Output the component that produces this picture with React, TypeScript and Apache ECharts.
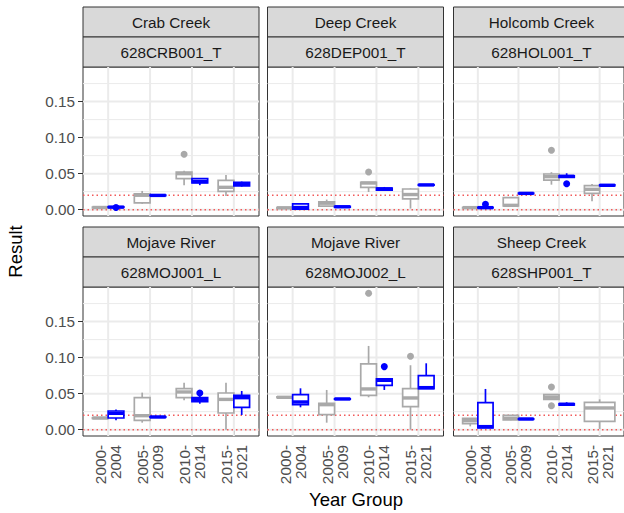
import React, { useEffect, useRef } from "react";
import * as echarts from "echarts";

// ---------- data ----------
const yearGroups = ["2000-\n2004", "2005-\n2009", "2010-\n2014", "2015-\n2021"];
const siteNames = ["Crab Creek", "Deep Creek", "Holcomb Creek", "Mojave River", "Mojave River", "Sheep Creek"];
const stationCodes = ["628CRB001_T", "628DEP001_T", "628HOL001_T", "628MOJ001_L", "628MOJ002_L", "628SHP001_T"];
const yTicks = [0, 0.05, 0.1, 0.15];
const yMinorTicks = [0.025, 0.075, 0.125, 0.175];
const referenceLines = [0, 0.02];

// box stats per year group: [lower whisker, Q1, median, Q3, upper whisker]; null = no data
const crbGrey = [
  [0.002, 0.0025, 0.003, 0.0035, 0.004],
  [0.008, 0.0095, 0.02, 0.022, 0.026],
  [0.034, 0.043, 0.05, 0.0523, 0.054],
  [0.019, 0.0255, 0.031, 0.0407, 0.048],
];
const crbBlue = [
  [0.003, 0.0032, 0.0035, 0.004, 0.0042],
  [0.019, 0.0195, 0.0198, 0.0202, 0.0205],
  [0.034, 0.037, 0.039, 0.043, 0.043],
  [0.032, 0.033, 0.036, 0.038, 0.039],
];
const crbGreyOutliers = [[2, 0.077]];
const crbBlueOutliers = [[0, 0.003]];

const depGrey = [
  [0.002, 0.002, 0.0025, 0.003, 0.003],
  [0.004, 0.005, 0.009, 0.011, 0.014],
  [0.0245, 0.031, 0.037, 0.038, 0.038],
  [0.0015, 0.015, 0.021, 0.0287, 0.0296],
];
const depBlue = [
  [0.0008, 0.0008, 0.003, 0.0079, 0.0079],
  [0.003, 0.0035, 0.004, 0.0045, 0.005],
  [0.027, 0.027, 0.0287, 0.03, 0.0315],
  [0.0338, 0.034, 0.0343, 0.0347, 0.035],
];
const depGreyOutliers = [[2, 0.0523]];
const depBlueOutliers: number[][] = [];

const holGrey = [
  [0.002, 0.0025, 0.0028, 0.003, 0.0035],
  [0.005, 0.0051, 0.006, 0.0167, 0.0167],
  [0.0347, 0.041, 0.0458, 0.0495, 0.052],
  [0.0116, 0.0227, 0.0282, 0.0333, 0.0356],
];
const holBlue = [
  [0.0025, 0.0027, 0.0028, 0.0032, 0.0035],
  [0.022, 0.0222, 0.0226, 0.023, 0.023],
  [0.044, 0.0448, 0.0463, 0.047, 0.0505],
  [0.033, 0.0332, 0.0338, 0.0345, 0.035],
];
const holGreyOutliers = [[2, 0.0824]];
const holBlueOutliers = [[0, 0.0075], [2, 0.036]];

const moj1Grey = [
  [0.015, 0.0155, 0.0162, 0.0165, 0.017],
  [0.0097, 0.013, 0.0194, 0.0444, 0.0514],
  [0.0407, 0.0444, 0.0523, 0.057, 0.065],
  [0.0, 0.0231, 0.042, 0.0509, 0.065],
];
const moj1Blue = [
  [0.013, 0.0162, 0.0227, 0.0259, 0.028],
  [0.0172, 0.0173, 0.0176, 0.0179, 0.018],
  [0.036, 0.039, 0.042, 0.0444, 0.047],
  [0.0204, 0.031, 0.0444, 0.0477, 0.0537],
];
const moj1GreyOutliers: number[][] = [];
const moj1BlueOutliers = [[2, 0.0509]];

const moj2Grey = [
  [0.044, 0.0445, 0.0449, 0.0455, 0.046],
  [0.0097, 0.0208, 0.0347, 0.0366, 0.0551],
  [0.0449, 0.0477, 0.0565, 0.0912, 0.1162],
  [0.0, 0.0319, 0.044, 0.0569, 0.0894],
];
const moj2Blue = [
  [0.031, 0.0347, 0.0384, 0.0486, 0.0574],
  [0.0421, 0.0423, 0.0426, 0.0429, 0.0431],
  [0.0551, 0.0616, 0.0685, 0.0704, 0.0704],
  [0.0569, 0.0569, 0.0583, 0.075, 0.0921],
];
const moj2GreyOutliers = [[2, 0.1894], [3, 0.1019]];
const moj2BlueOutliers = [[2, 0.0875]];

const shpGrey = [
  [0.0046, 0.0083, 0.0125, 0.0157, 0.0162],
  [0.013, 0.0134, 0.0157, 0.0199, 0.02],
  [0.0421, 0.0421, 0.045, 0.0486, 0.0486],
  [0.001, 0.0116, 0.0301, 0.0379, 0.0421],
];
const shpBlue = [
  [0.0023, 0.0023, 0.0042, 0.0375, 0.0565],
  [0.0144, 0.0145, 0.0148, 0.0151, 0.0152],
  [0.034, 0.0342, 0.0352, 0.036, 0.038],
  null,
];
const shpGreyOutliers = [[2, 0.0593], [2, 0.0333]];
const shpBlueOutliers: number[][] = [];

// ---------- layout / style ----------
const FONT = "Liberation Sans, Arial, sans-serif";
const GREY = "#A9A9A9";
const BLUE = "#0000FF";
const DODGE = 0.75;
const Y_MIN = -0.0088;
const Y_MAX = 0.198;
const colLefts = [83, 267.5, 453.5];
const panelWidth = 176;
const stripTops = [7, 227];
const stripH = 30;
const plotH = 149;

const panels = [
  { grey: crbGrey, blue: crbBlue, greyOut: crbGreyOutliers, blueOut: crbBlueOutliers },
  { grey: depGrey, blue: depBlue, greyOut: depGreyOutliers, blueOut: depBlueOutliers },
  { grey: holGrey, blue: holBlue, greyOut: holGreyOutliers, blueOut: holBlueOutliers },
  { grey: moj1Grey, blue: moj1Blue, greyOut: moj1GreyOutliers, blueOut: moj1BlueOutliers },
  { grey: moj2Grey, blue: moj2Blue, greyOut: moj2GreyOutliers, blueOut: moj2BlueOutliers },
  { grey: shpGrey, blue: shpBlue, greyOut: shpGreyOutliers, blueOut: shpBlueOutliers },
];

const boxRender = (color: string) => (params: any, api: any) => {
  const xi = api.value(0);
  const slot = api.value(1);
  const n = api.value(2);
  const low = api.value(3), q1 = api.value(4), med = api.value(5), q3 = api.value(6), high = api.value(7);
  const w = DODGE / n;
  const cx = xi - DODGE / 2 + w * (slot + 0.5);
  const tl = api.coord([cx - w / 2, q3]);
  const br = api.coord([cx + w / 2, q1]);
  const pMed = api.coord([cx, med]);
  const pLow = api.coord([cx, low]);
  const pHigh = api.coord([cx, high]);
  const ls = { stroke: color, lineWidth: 1.7, fill: null };
  return {
    type: "group",
    children: [
      { type: "line", shape: { x1: pHigh[0], y1: pHigh[1], x2: pHigh[0], y2: tl[1] }, style: ls },
      { type: "line", shape: { x1: pLow[0], y1: br[1], x2: pLow[0], y2: pLow[1] }, style: ls },
      {
        type: "rect",
        shape: { x: tl[0], y: tl[1], width: br[0] - tl[0], height: Math.max(br[1] - tl[1], 0.5) },
        style: { stroke: color, lineWidth: 1.7, fill: "#fff" },
      },
      { type: "line", shape: { x1: tl[0], y1: pMed[1], x2: br[0], y2: pMed[1] }, style: { stroke: color, lineWidth: 3.4 } },
    ],
  };
};

function buildOption() {
  const grid: any[] = [];
  const xAxis: any[] = [];
  const yAxis: any[] = [];
  const series: any[] = [];
  const graphic: any[] = [];

  panels.forEach((p, i) => {
    const row = Math.floor(i / 3);
    const col = i % 3;
    const left = colLefts[col];
    const top = stripTops[row] + 2 * stripH;
    grid.push({
      left, top, width: panelWidth, height: plotH,
      show: true, borderColor: "#333333", borderWidth: 1, backgroundColor: "#ffffff",
      containLabel: false,
    });
    xAxis.push({
      gridIndex: i, type: "value", min: 0.4, max: 4.6,
      axisLine: { show: false }, splitLine: { show: false },
      axisTick: { show: row === 1, customValues: [1, 2, 3, 4], length: 5, lineStyle: { color: "#333333", width: 1 } },
      axisLabel: {
        show: row === 1, customValues: [1, 2, 3, 4], rotate: 90, margin: 9,
        formatter: (v: number) => yearGroups[Math.round(v) - 1] ?? "",
        fontSize: 15.3, color: "#4D4D4D", fontFamily: FONT, lineHeight: 15,
      },
    });
    yAxis.push({
      gridIndex: i, type: "value", min: Y_MIN, max: Y_MAX,
      axisLine: { show: false }, splitLine: { show: false },
      axisTick: { show: col === 0, customValues: yTicks, length: 5, lineStyle: { color: "#333333", width: 1 } },
      axisLabel: {
        show: col === 0, customValues: yTicks, margin: 8,
        formatter: (v: number) => v.toFixed(2),
        fontSize: 15.3, color: "#4D4D4D", fontFamily: FONT,
      },
    });

    // grid lines
    const gridData: number[][] = [
      ...yMinorTicks.map((v) => [0, v, 0]),
      ...yTicks.map((v) => [0, v, 1]),
      ...yearGroups.map((_, k) => [1, k + 1, 1]),
    ];
    series.push({
      type: "custom", xAxisIndex: i, yAxisIndex: i, z: 1, silent: true, clip: false,
      data: gridData,
      renderItem: (params: any, api: any) => {
        const o = api.value(0), v = api.value(1), major = api.value(2);
        const cs = params.coordSys;
        const style = { stroke: "#EBEBEB", lineWidth: major ? 2 : 1, fill: null };
        if (o === 0) {
          const y = api.coord([1, v])[1];
          return { type: "line", shape: { x1: cs.x, y1: y, x2: cs.x + cs.width, y2: y }, style };
        }
        const x = api.coord([v, 0])[0];
        return { type: "line", shape: { x1: x, y1: cs.y, x2: x, y2: cs.y + cs.height }, style };
      },
    });
    // reference lines
    series.push({
      type: "custom", xAxisIndex: i, yAxisIndex: i, z: 2, silent: true, clip: false,
      data: referenceLines.map((v) => [1, v]),
      renderItem: (params: any, api: any) => {
        const cs = params.coordSys;
        const y = api.coord([1, api.value(1)])[1];
        return {
          type: "line",
          shape: { x1: cs.x, y1: y, x2: cs.x + cs.width, y2: y },
          style: { stroke: "#F25A5A", lineWidth: 1.5, lineDash: [1.5, 3], fill: null },
        };
      },
    });

    const counts = yearGroups.map((_, k) => (p.grey[k] ? 1 : 0) + (p.blue[k] ? 1 : 0));
    const offsetOf = (k: number, slot: number) => {
      const n = counts[k];
      const w = DODGE / n;
      return -DODGE / 2 + w * (slot + 0.5);
    };
    const colorSets = [
      { stats: p.grey, outs: p.greyOut, color: GREY, slot: 0 },
      { stats: p.blue, outs: p.blueOut, color: BLUE, slot: 1 },
    ];
    colorSets.forEach((cset) => {
      const data: number[][] = [];
      cset.stats.forEach((s: any, k: number) => {
        if (!s) return;
        const n = counts[k];
        const slot = n === 1 ? 0 : cset.slot;
        data.push([k + 1, slot, n, ...s]);
      });
      series.push({
        type: "custom", xAxisIndex: i, yAxisIndex: i, z: 3, silent: true, clip: false,
        encode: { x: 0, y: [3, 4, 5, 6, 7] },
        data,
        renderItem: boxRender(cset.color),
      });
      series.push({
        type: "scatter", xAxisIndex: i, yAxisIndex: i, z: 4, silent: true,
        symbolSize: 7,
        itemStyle: { color: cset.color, opacity: 1 },
        data: cset.outs.map(([k, v]) => {
          const slot = counts[k] === 1 ? 0 : cset.slot;
          return [k + 1 + offsetOf(k, slot), v];
        }),
      });
    });

    // strips
    [siteNames[i], stationCodes[i]].forEach((label, s) => {
      const y = stripTops[row] + s * stripH;
      graphic.push({
        type: "rect", x: left, y,
        shape: { x: 0, y: 0, width: panelWidth, height: stripH },
        style: { fill: "#D9D9D9", stroke: "#333333", lineWidth: 1 },
        silent: true,
      });
      graphic.push({
        type: "text", x: left + panelWidth / 2, y: y + stripH / 2,
        style: {
          text: label, fontSize: 15.3, fontFamily: FONT, fill: "#1A1A1A",
          textAlign: "center", textVerticalAlign: "middle",
        },
        silent: true,
      });
    });
  });

  graphic.push({
    type: "text", x: 15.8, y: 251.5, rotation: Math.PI / 2,
    style: { text: "Result", fontSize: 18.5, fontFamily: FONT, fill: "#000000", textAlign: "center", textVerticalAlign: "middle" },
    silent: true,
  });
  graphic.push({
    type: "text", x: 356, y: 499,
    style: { text: "Year Group", fontSize: 18.5, fontFamily: FONT, fill: "#000000", textAlign: "center", textVerticalAlign: "middle" },
    silent: true,
  });

  return {
    animation: false,
    backgroundColor: "#ffffff",
    grid, xAxis, yAxis, series, graphic,
  };
}

export default function App() {
  const ref = useRef<HTMLDivElement>(null);
  useEffect(() => {
    if (!ref.current) return;
    const chart = echarts.init(ref.current, null, { renderer: "svg" });
    chart.setOption(buildOption() as any);
    return () => chart.dispose();
  }, []);
  return (
    <div
      ref={ref}
      style={{ position: "absolute", left: 0, top: 0, width: 624, height: 513, background: "#fff" }}
    />
  );
}
